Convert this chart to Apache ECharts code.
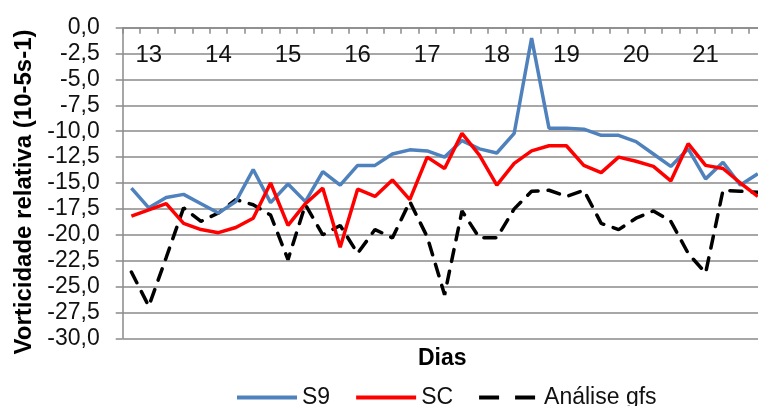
<!DOCTYPE html>
<html>
<head>
<meta charset="utf-8">
<script src="https://cdn.jsdelivr.net/npm/echarts@6/dist/echarts.min.js"></script>
<style>
  html, body { margin: 0; padding: 0; background: #fff; }
  #chart { width: 758px; height: 406px; }
</style>
</head>
<body>
<div id="chart"></div>
<script>
// Six-hourly slots; a day label sits on each 00h slot (index 1, 5, 9, ...)
const dayLabels = ['13', '14', '15', '16', '17', '18', '19', '20', '21'];
const slotCount = 37;

// Relative vorticity (10-5 s-1)
const s9 = [
  -15.5, -17.4, -16.4, -16.1, -17.0, -17.9, -16.8, -13.7, -16.9, -15.1,
  -16.8, -13.9, -15.2, -13.3, -13.3, -12.2, -11.8, -11.9, -12.5, -10.9,
  -11.7, -12.1, -10.2, -1.0, -9.7, -9.7, -9.8, -10.4, -10.4, -11.0,
  -12.2, -13.4, -11.7, -14.6, -13.0, -15.2, -14.1
];
const sc = [
  -18.2, -17.6, -17.0, -18.9, -19.5, -19.8, -19.3, -18.4, -15.0, -19.1,
  -17.0, -15.5, -21.2, -15.6, -16.3, -14.7, -16.6, -12.5, -13.6, -10.2,
  -12.3, -15.2, -13.1, -11.9, -11.4, -11.4, -13.3, -14.0, -12.5, -12.9,
  -13.4, -14.8, -11.2, -13.3, -13.6, -15.0, -16.3
];
const gfs = [
  -23.6, -26.9, -22.2, -17.4, -18.7, -17.9, -16.6, -17.1, -18.1, -22.4,
  -17.1, -20.0, -19.1, -21.8, -19.5, -20.3, -16.8, -20.2, -25.8, -17.7,
  -20.3, -20.3, -17.5, -15.8, -15.7, -16.3, -15.7, -18.9, -19.5, -18.4,
  -17.7, -18.7, -21.8, -23.7, -15.7, -15.8, -15.9
];

const seriesNames = ['S9', 'SC', 'Análise gfs'];
const seriesColors = ['#4f81bd', '#ff0000', '#000000'];

// Category list: empty slots except the 00h ones
const categories = [];
for (let i = 0; i < slotCount; i++) {
  categories.push((i - 1) % 4 === 0 ? dayLabels[(i - 1) / 4] : '');
}

const gridColor = '#8a8a8a';
const font = 'Liberation Sans, Arial, sans-serif';

const chart = echarts.init(document.getElementById('chart'), null, { renderer: 'canvas' });
chart.setOption({
  animation: false,
  backgroundColor: '#fff',
  textStyle: { fontFamily: font },
  // the plot runs past the right edge of the canvas
  grid: {
    left: 122.7, top: 27.7, width: 643.8, bottom: 67.7,
    containLabel: false, outerBoundsMode: 'none'
  },
  title: {
    text: 'Dias',
    left: 413,
    top: 342,
    textStyle: { fontFamily: font, fontSize: 23, fontWeight: 'bold', color: '#000' }
  },
  legend: {
    left: 230,
    top: 381,
    itemWidth: 60,
    itemHeight: 14,
    itemGap: 24,
    itemStyle: { opacity: 0 },
    textStyle: { fontFamily: font, fontSize: 23, color: '#111' },
    data: [
      { name: seriesNames[0], lineStyle: { width: 4 } },
      { name: seriesNames[1], lineStyle: { width: 4 } },
      { name: seriesNames[2], lineStyle: { width: 4, type: [20, 16], cap: 'butt' } }
    ]
  },
  xAxis: {
    type: 'category',
    position: 'top',
    data: categories,
    boundaryGap: true,
    axisLine: { show: true, lineStyle: { color: gridColor, width: 1.5 } },
    axisTick: { show: true, inside: true, length: 6, interval: 0, lineStyle: { color: gridColor, width: 1.5 } },
    axisLabel: {
      inside: true,
      interval: 0,
      margin: 16,
      fontSize: 24,
      fontFamily: font,
      color: '#111'
    },
    splitLine: { show: false }
  },
  yAxis: {
    type: 'value',
    min: -30,
    max: 0,
    interval: 2.5,
    name: 'Vorticidade relativa (10-5s-1)',
    nameLocation: 'middle',
    nameGap: 84,
    nameTextStyle: {
      fontFamily: font,
      fontSize: 24,
      fontWeight: 'bold',
      color: '#000',
      padding: [0, 18, 0, 0]
    },
    axisLine: { show: true, lineStyle: { color: gridColor, width: 1.5 } },
    axisTick: { show: true, length: 7, lineStyle: { color: gridColor, width: 1.5 } },
    axisLabel: {
      margin: 23,
      fontSize: 23,
      fontFamily: font,
      color: '#111',
      formatter: v => v.toFixed(1).replace('.', ',')
    },
    splitLine: { show: true, lineStyle: { color: gridColor, width: 1.5 } }
  },
  series: [
    {
      name: seriesNames[0],
      type: 'line',
      data: s9,
      showSymbol: false,
      symbol: 'none',
      lineStyle: { color: seriesColors[0], width: 3.5 },
      itemStyle: { color: seriesColors[0] },
      z: 3
    },
    {
      name: seriesNames[1],
      type: 'line',
      data: sc,
      showSymbol: false,
      symbol: 'none',
      lineStyle: { color: seriesColors[1], width: 3.5 },
      itemStyle: { color: seriesColors[1] },
      z: 4
    },
    {
      name: seriesNames[2],
      type: 'line',
      data: gfs,
      showSymbol: false,
      symbol: 'none',
      lineStyle: { color: seriesColors[2], width: 3.5, type: [12, 10], cap: 'round' },
      itemStyle: { color: seriesColors[2] },
      z: 2
    }
  ]
});
</script>
</body>
</html>
